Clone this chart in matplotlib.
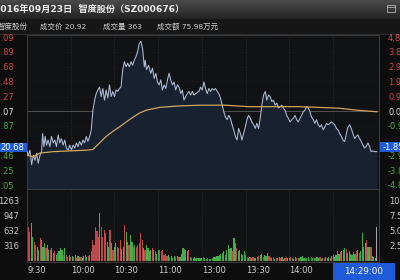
import numpy as np
import matplotlib
matplotlib.use("Agg")
import matplotlib.pyplot as plt
from matplotlib.patches import Rectangle
from matplotlib.colors import LinearSegmentedColormap

plt.rcParams['font.family'] = ['DejaVu Sans', 'Noto Sans CJK SC']

# ---------------- data ----------------
title_text = "2016年09月23日  智度股份（SZ000676）"
stock_name = "智度股份"
info_price = "成交价 20.92"
info_volume = "成交量 363"
info_amount = "成交额 75.98万元"
pre_close = 21.07

price_ticks = [22.09, 21.89, 21.68, 21.48, 21.27, 21.07, 20.87, 20.66, 20.46, 20.25, 20.05]
pct_ticks = [4.84, 3.87, 2.90, 1.94, 0.97, 0.00, -0.97, -1.94, -2.90, -3.87, -4.84]
vol_ticks = [316, 632, 947, 1263]
vol_right_labels = ["2.50", "5.00", "7.50", "10.0"]
time_ticks = [0, 30, 60, 90, 120, 150, 180]
time_labels = ["9:30", "10:00", "10:30", "11:00", "13:00", "13:30", "14:00"]
cursor_price = "20.68"
cursor_pct = "-1.85"
cursor_time = "14:29:00"

price_t = [0, 0.9, 2.0, 3.2, 4.3, 5.5, 6.6, 7.7, 8.9, 10.0, 10.7, 11.6, 12.5, 13.4, 14.5, 15.7, 16.8, 18.0, 19.1, 20.2,
           21.4, 22.5, 23.6, 24.8, 25.9, 27.0, 28.2, 29.3, 30.5, 31.6, 32.7, 33.9, 35.0, 36.1, 37.3, 38.4, 39.5, 40.7, 41.8, 43.0,
           44.1, 45.2, 46.4, 47.5, 48.6, 49.8, 50.9, 52.0, 53.2, 54.3, 55.5, 56.6, 57.7, 58.9, 60.0, 61.1, 62.3, 63.4, 64.5, 65.7,
           66.8, 68.0, 69.1, 70.2, 71.4, 72.5, 73.6, 74.8, 75.9, 77.0, 78.2, 79.3, 80.5, 81.1, 82.0, 83.4, 85.0, 86.1, 87.3, 88.4,
           89.5, 90.7, 91.8, 92.9, 94.1, 95.2, 96.4, 97.5, 98.6, 99.8, 100.9, 102.0, 103.2, 104.3, 105.5, 106.6, 107.7, 108.9, 110.0, 111.1,
           112.3, 113.4, 114.5, 115.7, 118.0, 119.1, 120.2, 121.4, 122.5, 123.6, 124.8, 125.9, 127.0, 128.2, 129.3, 130.5, 131.6, 132.7, 133.9, 135.0,
           136.1, 137.3, 138.4, 139.5, 140.7, 141.8, 143.0, 144.1, 145.2, 146.4, 147.5, 148.6, 149.8, 150.9, 152.0, 153.2, 154.3, 155.5, 156.6, 157.7,
           158.9, 160.0, 161.1, 162.3, 163.5, 164.5, 165.7, 166.8, 168.0, 169.1, 170.2, 171.4, 172.5, 173.6, 174.8, 175.9, 177.0, 178.2, 179.3, 180.5,
           181.6, 182.7, 183.9, 185.0, 186.1, 187.3, 188.4, 189.5, 190.7, 191.8, 193.0, 194.1, 195.2, 196.4, 197.5, 198.6, 199.8, 200.9, 202.0, 203.2,
           204.3, 205.5, 206.6, 207.7, 208.9, 210.0, 211.1, 212.3, 213.4, 214.5, 215.7, 216.8, 218.0, 219.1, 220.2, 221.4, 222.5, 223.6, 224.8, 225.9,
           227.0, 228.2, 229.3, 230.5, 231.6, 232.7, 233.9, 235.0, 236.1, 237.3, 238.4, 240.0]
price = [20.51, 20.46, 20.53, 20.33, 20.46, 20.39, 20.49, 20.35, 20.46, 20.51, 20.76, 20.58, 20.72, 20.60, 20.67, 20.58, 20.72, 20.63, 20.67, 20.58,
         20.74, 20.63, 20.69, 20.60, 20.67, 20.56, 20.53, 20.60, 20.53, 20.60, 20.56, 20.63, 20.58, 20.65, 20.60, 20.67, 20.63, 20.72, 20.65, 20.72,
         20.81, 21.08, 21.22, 21.31, 21.36, 21.40, 21.27, 21.38, 21.22, 21.36, 21.25, 21.43, 21.27, 21.34, 21.27, 21.36, 21.34, 21.38, 21.40, 21.64,
         21.75, 21.68, 21.73, 21.68, 21.75, 21.70, 21.77, 21.82, 21.89, 22.00, 22.03, 21.93, 21.68, 21.77, 21.64, 21.70, 21.59, 21.66, 21.52, 21.59,
         21.47, 21.43, 21.50, 21.36, 21.43, 21.38, 21.50, 21.59, 21.50, 21.43, 21.47, 21.36, 21.43, 21.40, 21.31, 21.36, 21.22, 21.27, 21.31, 21.34,
         21.29, 21.34, 21.29, 21.31, 21.34, 21.40, 21.36, 21.47, 21.38, 21.31, 21.38, 21.34, 21.38, 21.36, 21.38, 21.34, 21.31, 21.25, 21.15, 21.06,
         20.99, 20.95, 21.01, 20.97, 20.88, 20.81, 20.72, 20.67, 20.83, 20.76, 20.67, 20.76, 20.85, 20.95, 21.01, 20.97, 20.92, 20.88, 20.83, 20.90,
         20.83, 20.97, 21.15, 21.29, 21.34, 21.22, 21.29, 21.27, 21.20, 21.22, 21.15, 21.18, 21.11, 21.13, 21.15, 21.11, 21.08, 21.01, 20.97, 20.92,
         20.95, 20.97, 21.01, 20.95, 20.92, 20.97, 21.01, 21.06, 21.08, 21.13, 21.11, 21.06, 20.99, 20.95, 20.90, 20.95, 20.88, 20.85, 20.88, 20.81,
         20.85, 20.90, 20.88, 20.90, 20.92, 20.90, 20.88, 20.83, 20.81, 20.76, 20.72, 20.67, 20.65, 20.76, 20.85, 20.88, 20.83, 20.76, 20.69, 20.72,
         20.74, 20.69, 20.65, 20.60, 20.56, 20.58, 20.63, 20.58, 20.51, 20.52, 20.51, 20.51]

avg_t = [0, 4.3, 8.9, 18, 29.3, 40.7, 45.2, 49.8, 54.3, 58.9, 63.4, 70.2, 77, 81.6, 90.7, 104.3, 118, 136.1, 152, 186.1, 213.4, 227, 240]
avg_price = [20.46, 20.44, 20.49, 20.51, 20.52, 20.53, 20.54, 20.63, 20.72, 20.79, 20.85, 20.95, 21.04, 21.08, 21.12, 21.14, 21.15, 21.15,
             21.13, 21.13, 21.11, 21.08, 21.06]

volume = [1600, 720, 615, 790, 510, 405, 335, 300, 230, 475,
          440, 300, 370, 265, 335, 230, 230, 265, 170, 200,
          125, 170, 200, 265, 230, 125, 265, 125, 90, 125,
          90, 110, 80, 125, 55, 110, 80, 90, 55, 110,
          125, 90, 110, 125, 200, 440, 335, 720, 620, 500,
          1000, 720, 510, 650, 580, 405, 300, 650, 370, 230,
          300, 370, 300, 265, 440, 250, 300, 755, 615, 405,
          335, 545, 405, 300, 335, 300, 335, 370, 580, 440,
          265, 230, 335, 265, 200, 230, 265, 230, 200, 150,
          230, 230, 200, 230, 125, 150, 110, 125, 90, 110,
          55, 110, 80, 110, 90, 80, 150, 265, 245, 230,
          200, 230, 80, 55, 70, 80, 55, 70, 55, 70,
          55, 80, 60, 40, 55, 40, 50, 70, 90, 80,
          110, 100, 125, 150, 170, 200, 125, 230, 335, 250,
          265, 200, 475, 370, 265, 200, 230, 150, 125, 200,
          125, 80, 55, 90, 70, 80, 60, 55, 90, 110,
          125, 150, 90, 125, 100, 170, 110, 80, 55, 80,
          50, 70, 60, 80, 60, 80, 50, 70, 90, 60,
          55, 80, 70, 50, 90, 60, 70, 55, 80, 100,
          60, 70, 55, 80, 50, 90, 60, 70, 55, 80,
          60, 90, 50, 70, 60, 80, 55, 90, 70, 110,
          125, 90, 125, 200, 150, 180, 200, 230, 265, 245,
          170, 200, 150, 125, 180, 150, 200, 230, 170, 200,
          580, 300, 370, 440, 300, 300, 300, 100, 80, 60,
          720]
# w = auction, r = up, g = down
vol_dir = ("wrrggrrggr" "gggrggrggr" "grgggrgrrg" "rgrgrggrgg" "rgrgrrrrrr"
           "grrrrggrgr" "ggrrrggrgg" "rggrgrrrrr" "grggggrgrg" "grrrrrrgrg"
           "ggrgrggggg" "grgrgggrgg" "grggrggggg" "gggggggggg" "grggrggggg"
           "grgrgrggrr" "ggrgggrrgr" "grggrggrrg" "grgggrgrgg" "grggrrggrg"
           "grggrgggrg" "gggggrgggr" "ggggggrgrg" "gggrggrggg" "w")

# ---------------- figure ----------------
W, H = 400, 280
fig = plt.figure(figsize=(4, 2.8), dpi=100, facecolor='#0d0d0d')


def frac(x0, y0, x1, y1):
    return [x0 / W, 1 - y1 / H, (x1 - x0) / W, (y1 - y0) / H]


bg = fig.add_axes([0, 0, 1, 1], zorder=0)
bg.set_axis_off()
cmap = LinearSegmentedColormap.from_list('bar', ['#4a4a4a', '#232323'])
bg.imshow(np.linspace(0, 1, 40)[:, None], cmap=cmap, extent=(0, W, 19, 0), aspect='auto')
bg.add_patch(Rectangle((0, 19), W, 15, color='#161616', lw=0))
bg.add_patch(Rectangle((0, 34), W, 1, color='#2c2c2c', lw=0))
bg.add_patch(Rectangle((386.5, 5), 8, 7, fill=False, ec='#b0b0b0', lw=0.6))
bg.plot([386.5, 394.5], [7, 7], color='#b0b0b0', lw=0.6)
bg.set_xlim(0, W)
bg.set_ylim(H, 0)

bg.text(-6, 9.5, title_text, color='#ececec', fontsize=6.6, fontweight='bold', va='center', ha='left')
bg.text(-2, 26.5, stock_name, color='#cfcfcf', fontsize=5.4, va='center', ha='left')
bg.text(40, 26.5, info_price, color='#cfcfcf', fontsize=5.4, va='center', ha='left')
bg.text(103, 26.5, info_volume, color='#cfcfcf', fontsize=5.4, va='center', ha='left')
bg.text(157, 26.5, info_amount, color='#cfcfcf', fontsize=5.4, va='center', ha='left')

XMAX = 241.5
RED, GREEN, WHITE = '#cc4a4a', '#45a845', '#d4d4d4'

# ---- price panel ----
ax = fig.add_axes(frac(27, 35, 379, 189), zorder=2)
ax.set_facecolor('#111214')
p_lo, p_hi = 19.995, 22.118
ax.set_xlim(0, XMAX)
ax.set_ylim(p_lo, p_hi)
ax.fill_between(price_t, price, p_lo, color='#182130', lw=0, zorder=1)
for t in time_ticks[1:] + [210]:
    ax.axvline(t, color='#3a3a3a', lw=0.5, ls=(0, (1, 2)), zorder=0.5)
for v in price_ticks:
    if v != pre_close:
        ax.axhline(v, color='#222222', lw=0.5, ls=(0, (1, 2)), zorder=0.5)
ax.axhline(pre_close, color='#5c5c5c', lw=0.6, zorder=0.6)
ax.plot(price_t, price, color='#aebdd6', lw=0.75, zorder=3)
ax.plot(avg_t, avg_price, color='#d2a55c', lw=0.9, zorder=4)
ax.set_xticks([])
ax.set_yticks(price_ticks)
ax.set_yticklabels([("" if v == 20.66 else f"{v:.2f}") for v in price_ticks])
ax.tick_params(axis='y', length=0, pad=9.4, labelsize=6)
for lbl, v in zip(ax.get_yticklabels(), price_ticks):
    lbl.set_color(RED if v > pre_close else (WHITE if v == pre_close else GREEN))
for s in ax.spines.values():
    s.set_color('#3c3c3c')
    s.set_linewidth(0.7)

ax2 = ax.twinx()
ax2.set_ylim((p_lo / pre_close - 1) * 100, (p_hi / pre_close - 1) * 100)
ax2.set_yticks(pct_ticks)
ax2.set_yticklabels([("" if v == -1.94 else f"{v:.2f}") for v in pct_ticks])
ax2.tick_params(axis='y', length=0, pad=6.5, labelsize=6)
for lbl, v in zip(ax2.get_yticklabels(), pct_ticks):
    lbl.set_color(RED if v > 0 else (WHITE if v == 0 else GREEN))
for s in ax2.spines.values():
    s.set_visible(False)

# ---- volume panel ----
av = fig.add_axes(frac(27, 189, 379, 262), zorder=1)
av.set_facecolor('#111214')
av.set_xlim(0, XMAX)
av.set_ylim(-21, 1512)
cmap_dir = {'w': '#a8a8a8', 'r': '#c04848', 'g': '#45ad4a'}
av.bar(np.arange(len(volume)), volume, width=0.8, color=[cmap_dir[c] for c in vol_dir], lw=0, zorder=2)
for t in time_ticks[1:] + [210]:
    av.axvline(t, color='#3a3a3a', lw=0.5, ls=(0, (1, 2)), zorder=0.5)
av.set_xticks(time_ticks)
av.set_xticklabels(time_labels)
for lbl in av.get_xticklabels():
    lbl.set_ha('left')
av.tick_params(axis='x', length=0, pad=3, labelsize=6, colors='#cfcfcf')
av.set_yticks(vol_ticks)
av.set_yticklabels([str(v) for v in vol_ticks])
av.tick_params(axis='y', length=0, pad=5.8, labelsize=6, colors='#c8c8c8')
for s in av.spines.values():
    s.set_color('#3c3c3c')
    s.set_linewidth(0.7)

av2 = av.twinx()
av2.set_ylim(-21, 1512)
av2.set_yticks(vol_ticks)
av2.set_yticklabels(vol_right_labels)
av2.tick_params(axis='y', length=0, pad=7.2, labelsize=6, colors='#c8c8c8')
for s in av2.spines.values():
    s.set_visible(False)

# ---- foreground boxes ----
fg = fig.add_axes([0, 0, 1, 1], zorder=10)
fg.set_axis_off()
fg.patch.set_visible(False)
fg.set_xlim(0, W)
fg.set_ylim(H, 0)
BLUE = '#1f5bd8'
fg.add_patch(Rectangle((0, 142.7), 26.5, 9.3, color=BLUE, lw=0))
fg.text(24.5, 147.6, cursor_price, color='white', fontsize=6, ha='right', va='center')
fg.add_patch(Rectangle((379.5, 142.2), 21, 9.5, color=BLUE, lw=0))
fg.text(383, 147.2, cursor_pct, color='white', fontsize=6, ha='left', va='center')
fg.add_patch(Rectangle((333, 262.5), 62, 17.5, color=BLUE, lw=0))
fg.text(364, 271.5, cursor_time, color='white', fontsize=6.3, ha='center', va='center')

fig.savefig('out.png', dpi=100, facecolor=fig.get_facecolor())
